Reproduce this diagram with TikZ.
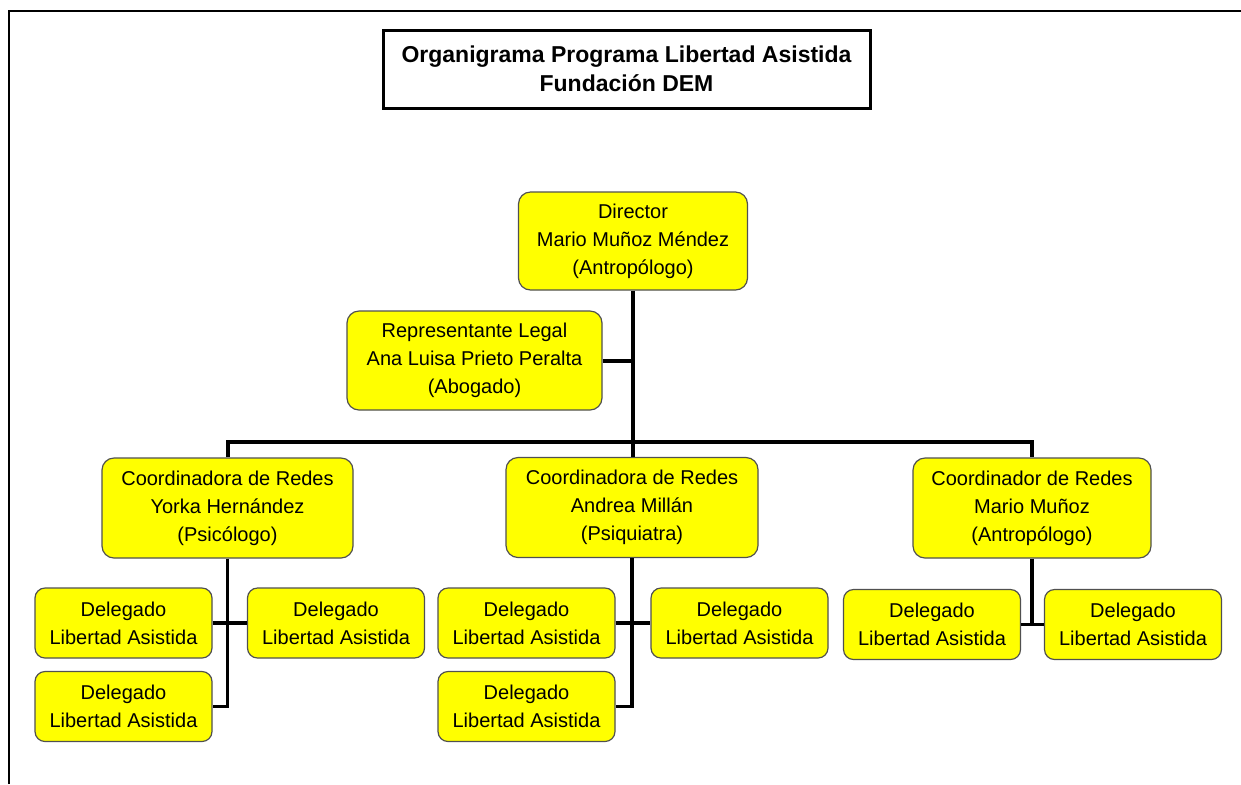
\documentclass[tikz,border=0pt]{standalone}
\definecolor{orgyellow}{HTML}{FFFF00}
\definecolor{orgedge}{HTML}{505050}
\usepackage{fontspec}
\setmainfont{Liberation Sans}
\usepackage{tikz}
\usetikzlibrary{positioning,calc}

\tikzset{
  orgbox/.style={draw=orgedge, line width=0.6pt, fill=orgyellow, rounded corners=6pt,
    align=center, inner sep=2pt, font=\fontsize{10}{14}\selectfont},
  delbox/.style={orgbox, rounded corners=5pt, minimum width=88.5pt, minimum height=35pt},
  mainline/.style={line width=2pt},
  delline/.style={line width=1.7pt}
}

\begin{document}
\begin{tikzpicture}[x=0.5pt,y=-0.5pt]
\useasboundingbox (0,0) rectangle (1241,784);
% Draw page frame
\draw[line width=1pt] (9,784) -- (9,11) -- (1241,11);

% Draw title
\node[draw, line width=1.5pt, minimum width=243.5pt, minimum height=39pt, align=center,
  font=\fontsize{11.5}{14.5}\selectfont\bfseries] (title) at (626.5,69)
  {Organigrama Programa Libertad Asistida\\Fundación DEM};

% Draw boards
\node[orgbox, minimum width=114.5pt, minimum height=49pt] (dir) at (633,241)
  {Director\\Mario Muñoz Méndez\\(Antropólogo)};
\node[orgbox, minimum width=127.5pt, minimum height=49.5pt] (rep) at (474.5,360.5)
  {Representante Legal\\Ana Luisa Prieto Peralta\\(Abogado)};
\node[orgbox, minimum width=125.5pt, minimum height=50pt] (co1) at (227.5,508)
  {Coordinadora de Redes\\Yorka Hernández\\(Psicólogo)};
\node[orgbox, minimum width=126pt, minimum height=50pt] (co2) at (632,507.5)
  {Coordinadora de Redes\\Andrea Millán\\(Psiquiatra)};
\node[orgbox, minimum width=119pt, minimum height=50pt] (co3) at (1032,508)
  {Coordinador de Redes\\Mario Muñoz\\(Antropólogo)};

% Draw delegates
\foreach \n/\x/\y in {d11/123.5/623, d12/336/623, d13/123.5/706.5,
                      d21/526.5/623, d22/739.5/623, d23/526.5/706.5,
                      d31/932/624.5, d32/1133/624.5}{
  \node[delbox] (\n) at (\x,\y) {Delegado\\Libertad Asistida};
}

% Draw connectors
\coordinate (hub) at (633,442);
\draw[mainline] (dir.south) -- (hub);
\draw[mainline] (rep.east) -- (rep.east -| hub);
\draw[mainline] (co1.north) |- (hub) -| (co3.north);
\draw[mainline] (hub) -- (hub |- co2.north);

\draw[delline] (co1.south) |- (d13.east);
\draw[delline] (d11.east) -- (d12.west);
\draw[delline] (co2.south) |- (d23.east);
\draw[delline] (d21.east) -- (d22.west);
\draw[delline] (co3.south) -- (co3.south |- d31.east);
\draw[delline] (d31.east) -- (d32.west);
\end{tikzpicture}
\end{document}
